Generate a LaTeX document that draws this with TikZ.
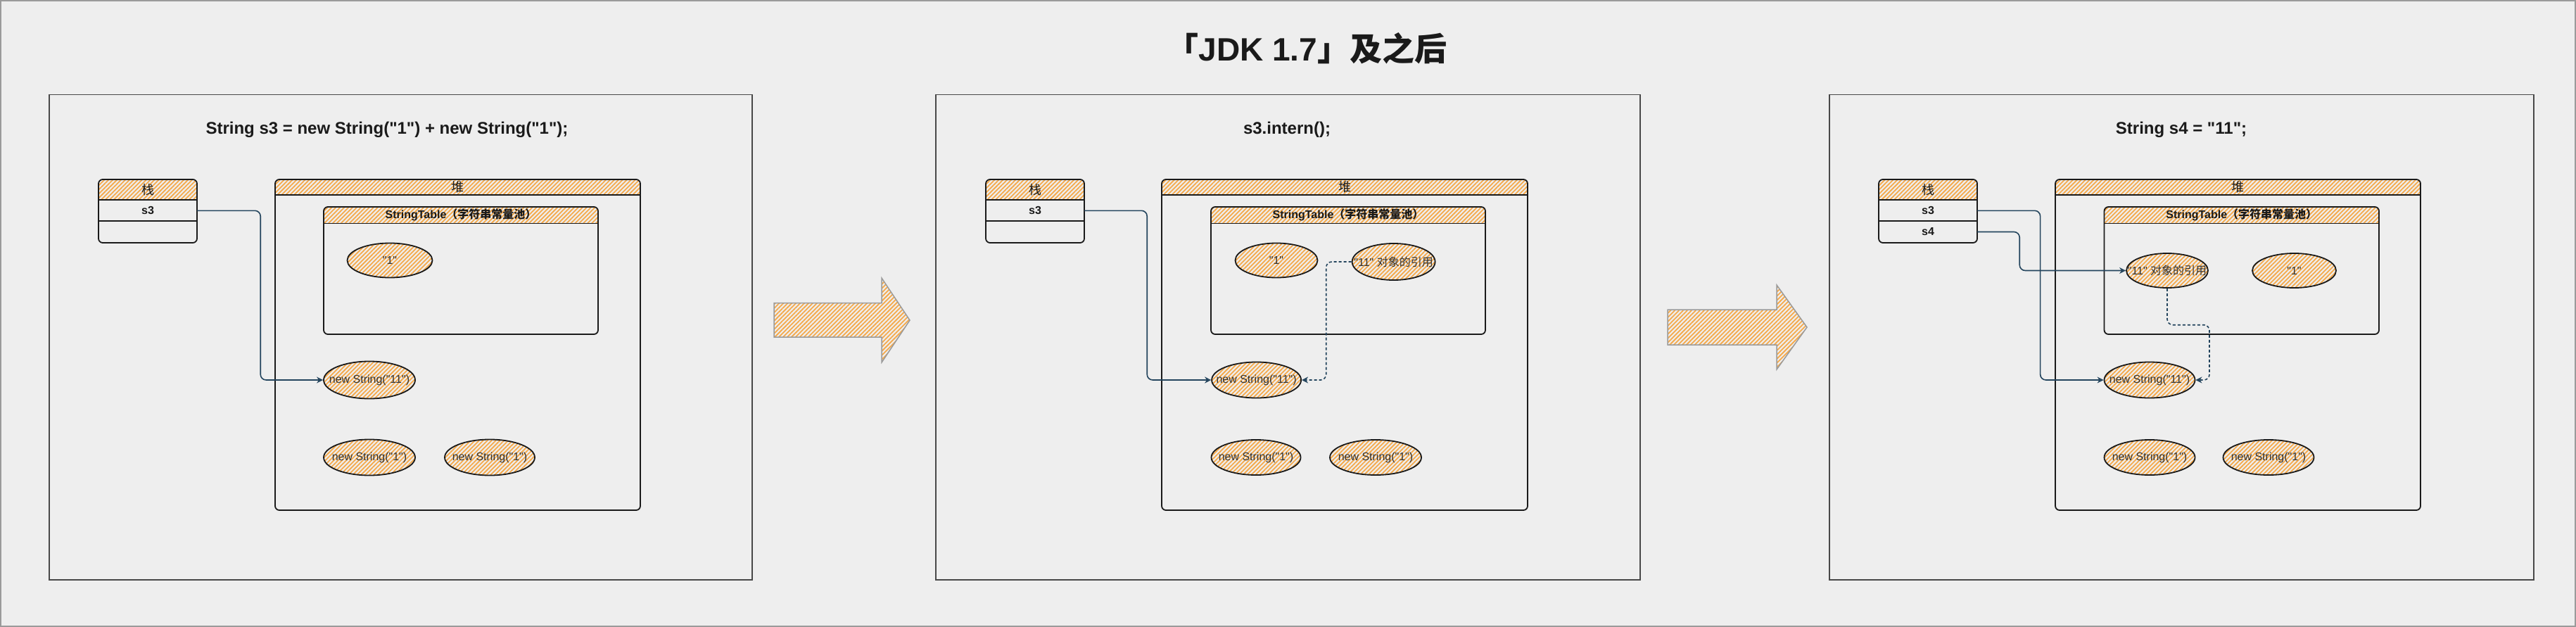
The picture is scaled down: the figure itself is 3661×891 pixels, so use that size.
\documentclass[tikz,border=0pt]{standalone}
\usepackage{fontspec}
\usetikzlibrary{patterns.meta,shapes.geometric,arrows.meta}
\newfontfamily\lat{Liberation Sans}
\newfontfamily\cjk{Noto Sans CJK SC}
\definecolor{bgc}{HTML}{EEEEEE}
\definecolor{hatchc}{HTML}{F5A94A}
\definecolor{linec}{HTML}{1A1A1A}
\definecolor{connc}{HTML}{23445D}
\definecolor{txtc}{HTML}{333333}
\definecolor{framec}{HTML}{9A9A9A}
\newcommand\hdrbox[5]{%
  \begin{scope}\clip[rounded corners=6pt] (#1,#2) rectangle (#3,#4);
  \path[hatchfill] (#1,#2) rectangle (#3,#5);\end{scope}
  \draw[linec,line width=1.8pt] (#1,#5) -- (#3,#5);
  \draw[boxline] (#1,#2) rectangle (#3,#4);}
\newcommand\ztext[1]{\makebox[0pt][c]{#1}}
\begin{document}
\begin{tikzpicture}[x=1pt,y=-1pt,
  hatchfill/.style={pattern={Lines[angle=45,distance=4.2pt,line width=1.8pt]},pattern color=hatchc},
  boxline/.style={draw=linec,line width=1.8pt,rounded corners=6pt},
  objell/.style={ellipse,draw=linec,line width=1.8pt,hatchfill,inner sep=0pt,font=\lat\fontsize{16}{19}\selectfont,text=txtc},
  rowlbl/.style={minimum width=140pt,minimum height=30pt,inner sep=0pt,font=\lat\bfseries\fontsize{16}{19}\selectfont,text=linec},
  headlbl/.style={inner sep=0pt,font=\cjk\fontsize{18}{21}\selectfont,text=linec},
  stlbl/.style={inner sep=0pt,font=\lat\bfseries\fontsize{16}{19}\selectfont,text=linec},
  sublbl/.style={inner sep=0pt,font=\lat\bfseries\fontsize{24}{28}\selectfont,text=linec},
  reflink/.style={draw=connc,line width=1.6pt,rounded corners=8pt,-{Stealth[open,length=9pt,width=9pt]}},
  dreflink/.style={reflink,dash pattern=on 4pt off 3pt},
  panelbox/.style={draw=linec!80,line width=1.5pt},
  bigarr/.style={draw=framec,line width=1.5pt,hatchfill}]
\useasboundingbox (0,0) rectangle (3661,891);
\fill[bgc] (0,0) rectangle (3661,891);
\draw[framec,line width=2pt] (1,1) rectangle (3660,890);

% title
\node[inner sep=0pt,font=\lat\bfseries\fontsize{46}{52}\selectfont,text=linec] (title) at (1857,69) {{\cjk 「}JDK 1.7{\cjk 」及之后}};

% panels
\draw[panelbox] (70,134.5) rectangle (1069,824);
\draw[panelbox] (1330,134.5) rectangle (2331,824);
\draw[panelbox] (2600,134.5) rectangle (3601,824);

\node[sublbl] (sub1) at (550,184.5) {String s3 = new String("1") + new String("1");};
\node[sublbl] (sub2) at (1829,184.5) {s3.intern();};
\node[sublbl] (sub3) at (3100,184.5) {String s4 = "11";};

% big arrows
\path[bigarr] (1100,430.7) -- (1253,430.7) -- (1253,395) -- (1293,455) -- (1253,515) -- (1253,479) -- (1100,479) -- cycle;
\path[bigarr] (2370,440) -- (2525,440) -- (2525,405) -- (2568,465) -- (2525,525) -- (2525,490) -- (2370,490) -- cycle;

% ---------- panel 1 ----------
\hdrbox{140}{255}{280}{345}{284.3}
\draw[linec,line width=1.8pt] (140,314.3) -- (280,314.3);
\node[headlbl] (p1stk) at (210,269.6) {栈};
\node[rowlbl] (p1s3) at (210,299.3) {s3};
\hdrbox{391}{255}{910}{725}{277}
\node[headlbl] (p1heap) at (650.5,266) {堆};
\hdrbox{460}{294}{850}{475}{317.5}
\node[stlbl] (p1st) at (655,305.7) {StringTable{\cjk\bfseries （字符串常量池）}};
\node[objell,minimum width=121pt,minimum height=49pt] (p1one) at (554,370) {\ztext{"1"}};
\node[objell,minimum width=130pt,minimum height=53pt] (p1n11) at (525,540) {\ztext{new String("11")}};
\node[objell,minimum width=130pt,minimum height=51pt] (p1na) at (525,650) {\ztext{new String("1")}};
\node[objell,minimum width=128pt,minimum height=51pt] (p1nb) at (696,650) {\ztext{new String("1")}};
\draw[reflink] (p1s3.east) -- ++(90,0) |- (p1n11.west);

% ---------- panel 2 ----------
\hdrbox{1401}{255}{1541}{345}{284.3}
\draw[linec,line width=1.8pt] (1401,314.3) -- (1541,314.3);
\node[headlbl] (p2stk) at (1471,269.6) {栈};
\node[rowlbl] (p2s3) at (1471,299.3) {s3};
\hdrbox{1651}{255}{2171}{725}{277}
\node[headlbl] (p2heap) at (1911,266) {堆};
\hdrbox{1721}{294}{2111}{475}{317.5}
\node[stlbl] (p2st) at (1916,305.7) {StringTable{\cjk\bfseries （字符串常量池）}};
\node[objell,minimum width=117pt,minimum height=49pt] (p2one) at (1814,370) {\ztext{"1"}};
\node[objell,minimum width=118pt,minimum height=52pt] (p2ref) at (1980.6,372) {\ztext{"11" {\cjk 对象的引用}}};
\node[objell,minimum width=127pt,minimum height=51pt] (p2n11) at (1785.6,540) {\ztext{new String("11")}};
\node[objell,minimum width=127pt,minimum height=50pt] (p2na) at (1785,650) {\ztext{new String("1")}};
\node[objell,minimum width=130pt,minimum height=50pt] (p2nb) at (1955,650) {\ztext{new String("1")}};
\draw[reflink] (p2s3.east) -- ++(89,0) |- (p2n11.west);
\draw[dreflink] (p2ref.west) -- ++(-36,0) |- (p2n11.east);

% ---------- panel 3 ----------
\hdrbox{2670}{255}{2810}{345}{284.3}
\draw[linec,line width=1.8pt] (2670,314.3) -- (2810,314.3);
\node[headlbl] (p3stk) at (2740,269.6) {栈};
\node[rowlbl] (p3s3) at (2740,299.3) {s3};
\node[rowlbl] (p3s4) at (2740,329.5) {s4};
\hdrbox{2921}{255}{3440}{725}{277}
\node[headlbl] (p3heap) at (3180.5,266) {堆};
\hdrbox{2990.5}{294}{3381}{475}{317.5}
\node[stlbl] (p3st) at (3185.7,305.7) {StringTable{\cjk\bfseries （字符串常量池）}};
\node[objell,minimum width=116pt,minimum height=49pt] (p3ref) at (3080,384.5) {\ztext{"11" {\cjk 对象的引用}}};
\node[objell,minimum width=119pt,minimum height=49pt] (p3one) at (3260.5,384.5) {\ztext{"1"}};
\node[objell,minimum width=129pt,minimum height=51pt] (p3n11) at (3055,540) {\ztext{new String("11")}};
\node[objell,minimum width=129pt,minimum height=50pt] (p3na) at (3055,650) {\ztext{new String("1")}};
\node[objell,minimum width=129pt,minimum height=50pt] (p3nb) at (3224,650) {\ztext{new String("1")}};
\coordinate (p3bend) at (3140,461.7);
\draw[reflink] (p3s3.east) -- ++(89.4,0) |- (p3n11.west);
\draw[reflink] (p3s4.east) -- ++(60,0) |- (p3ref.west);
\draw[dreflink] (p3ref.south) |- (p3bend) |- (p3n11.east);
\end{tikzpicture}
\end{document}
